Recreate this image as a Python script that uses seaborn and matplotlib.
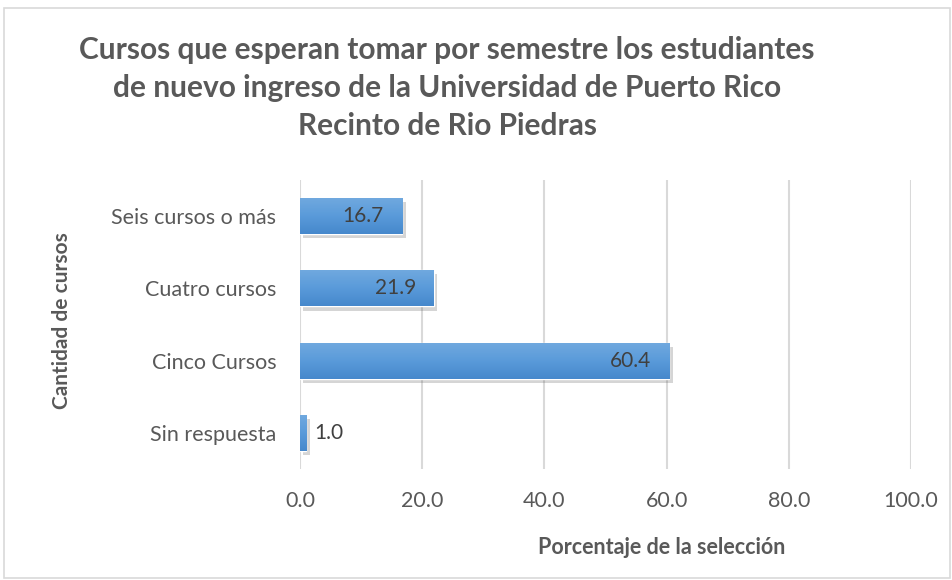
import numpy as np
import pandas as pd
import seaborn as sns
import matplotlib.pyplot as plt
from matplotlib import patheffects as pe
from matplotlib.patches import Rectangle
from matplotlib.colors import LinearSegmentedColormap

categorias = ['Seis cursos o más', 'Cuatro cursos', 'Cinco Cursos', 'Sin respuesta']
porcentajes = [16.7, 21.9, 60.4, 1.0]
ticks_x = [0.0, 20.0, 40.0, 60.0, 80.0, 100.0]

titulo = ('Cursos que esperan tomar por semestre los estudiantes\n'
          'de nuevo ingreso de la Universidad de Puerto Rico\n'
          'Recinto de Rio Piedras')

sns.set_style('white')
plt.rcParams['font.family'] = ['Lato', 'DejaVu Sans']

df = pd.DataFrame({'cat': categorias, 'pct': porcentajes})

W, H = 952, 580
fig = plt.figure(figsize=(W / 100, H / 100), dpi=100)
ax = fig.add_axes([300 / W, 1 - 469 / H, 611 / W, 289 / H])

sns.barplot(data=df, x='pct', y='cat', orient='h', color='#5B9BD5',
            width=0.5, ax=ax, zorder=3)

# gradient + soft shadow like Excel
grad = np.linspace(0, 1, 64).reshape(-1, 1)
cmap = LinearSegmentedColormap.from_list('g', ['#71A9DF', '#5A9BDA', '#4688CC'])
for p in ax.patches:
    p.set_path_effects([pe.SimplePatchShadow(offset=(2.5, -3), alpha=0.22, shadow_rgbFace='#444444'),
                        pe.Normal()])
    x0, y0 = p.get_x(), p.get_y()
    w, h = p.get_width(), p.get_height()
    im = ax.imshow(grad, cmap=cmap, aspect='auto', extent=(x0, x0 + w, y0 + h, y0),
                   zorder=4, interpolation='bicubic')
    im.set_clip_path(p)

ax.set_xlim(0, 100)
ax.set_ylim(3.5, -0.5)
ax.set_xticks(ticks_x)
ax.set_xticklabels([f'{t:.1f}' for t in ticks_x])
ax.grid(axis='x', color='#D9D9D9', linewidth=1.5, zorder=0)
ax.set_axisbelow(True)
for s in ax.spines.values():
    s.set_visible(False)
ax.tick_params(axis='both', length=0, labelsize=15.5, labelcolor='#595959')
ax.tick_params(axis='x', pad=16)
ax.tick_params(axis='y', pad=17)
ax.set_xlabel('')
ax.set_ylabel('')

for i, v in enumerate(porcentajes):
    if v > 5:
        ax.annotate(f'{v:.1f}', (v, i), xytext=(-13, 0), textcoords='offset points',
                    ha='right', va='center', fontsize=15, color='#404040', zorder=6)
    else:
        ax.annotate(f'{v:.1f}', (v, i), xytext=(6, 0), textcoords='offset points',
                    ha='left', va='center', fontsize=15, color='#404040', zorder=6)

fig.text(447 / W, 1 - 88 / H, titulo, ha='center', va='center', fontsize=21.5,
         fontweight='bold', color='#595959', linespacing=1.45)
fig.text(662 / W, 1 - 548 / H, 'Porcentaje de la selección', ha='center', va='center',
         fontsize=15.5, fontweight='bold', color='#595959')
fig.text(62 / W, 1 - 321 / H, 'Cantidad de cursos', ha='center', va='center',
         rotation=90, fontsize=15, fontweight='bold', color='#595959')

fig.patches.append(Rectangle((4 / W, 2 / H), 946 / W, 570 / H, transform=fig.transFigure,
                             fill=False, edgecolor='#D9D9D9', linewidth=1.2))

fig.savefig('out.png', dpi=100)
